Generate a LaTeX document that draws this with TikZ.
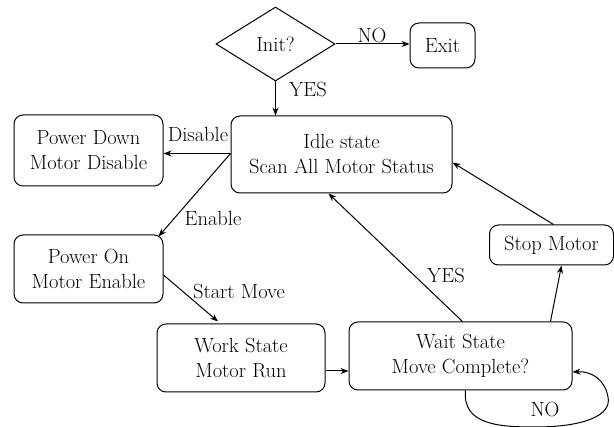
\documentclass[tikz,border=0pt]{standalone}
\usetikzlibrary{shapes.geometric,arrows.meta}
\begin{document}
\begin{tikzpicture}[x=1pt,y=-1pt,
  every node/.style={font=\fontsize{20.5}{25}\selectfont},
  box/.style={draw,rounded corners=9pt,line width=1pt,align=center,inner sep=0pt},
  lbl/.style={inner sep=0pt},
  arr/.style={line width=1pt,-{Stealth[length=8pt,width=6pt]}}]
\useasboundingbox (0,0) rectangle (614,427);
\node[draw,diamond,line width=1pt,minimum width=119pt,minimum height=74pt,inner sep=0pt] (init) at (275.5,44) {Init?};
\node[box,minimum width=65pt,minimum height=45pt] (exit) at (442.5,45.5) {Exit};
\node[box,minimum width=221pt,minimum height=77pt] (idle) at (341.5,154.5) {Idle state\\Scan All Motor Status};
\node[box,minimum width=149pt,minimum height=71pt] (pd) at (88.5,150.5) {Power Down\\Motor Disable};
\node[box,minimum width=149pt,minimum height=68pt] (pon) at (88.5,269) {Power On\\Motor Enable};
\node[box,minimum width=168pt,minimum height=68pt] (work) at (241,358) {Work State\\Motor Run};
\node[box,minimum width=223pt,minimum height=68pt] (wait) at (460.5,356) {Wait State\\Move Complete?};
\node[box,minimum width=124pt,minimum height=40pt] (stop) at (551.5,245) {Stop Motor};

\draw[arr] (init.east) -- (init.east -| exit.west);
\node[lbl] (lno) at (372,36) {NO};
\draw[arr] (init.south) -- (init.south |- idle.north);
\node[lbl] (lyes) at (308,90) {YES};
\draw[arr] ([yshift=1pt]idle.west) -- ([yshift=1pt]idle.west -| pd.east);
\node[lbl] (ldis) at (198,134) {Disable};
\draw[arr] ([yshift=1pt]idle.west) -- ([xshift=-5pt,yshift=-2pt]pon.north east);
\node[lbl] (len) at (213,218) {Enable};
\draw[arr] ([yshift=-6pt]pon.east) -- ([xshift=-23pt,yshift=2pt]work.north);
\node[lbl] (lsm) at (239,292) {Start Move};
\draw[arr] ([yshift=-13pt]work.east) -- ([yshift=-13pt]work.east -| wait.west);
\draw[arr] ([xshift=2pt]wait.north) -- ([xshift=-13pt]idle.south);
\node[lbl] (lyes2) at (446,276) {YES};
\draw[arr] ([xshift=90pt]wait.north) -- ([xshift=10pt]stop.south);
\draw[arr] ([xshift=2pt]stop.north) -- ([yshift=-8pt]idle.east);
\coordinate (c1) at (535,427);
\coordinate (c2) at (608,397);
\draw[arr] ([xshift=5pt]wait.south) .. controls (462,425) and (500,427) .. (c1)
  .. controls (585,427) and (612,415) .. (c2)
  .. controls (605,380) and (592,371) .. ([yshift=-16pt]wait.east);
\node[lbl] (lno2) at (545,410) {NO};
\end{tikzpicture}
\end{document}
